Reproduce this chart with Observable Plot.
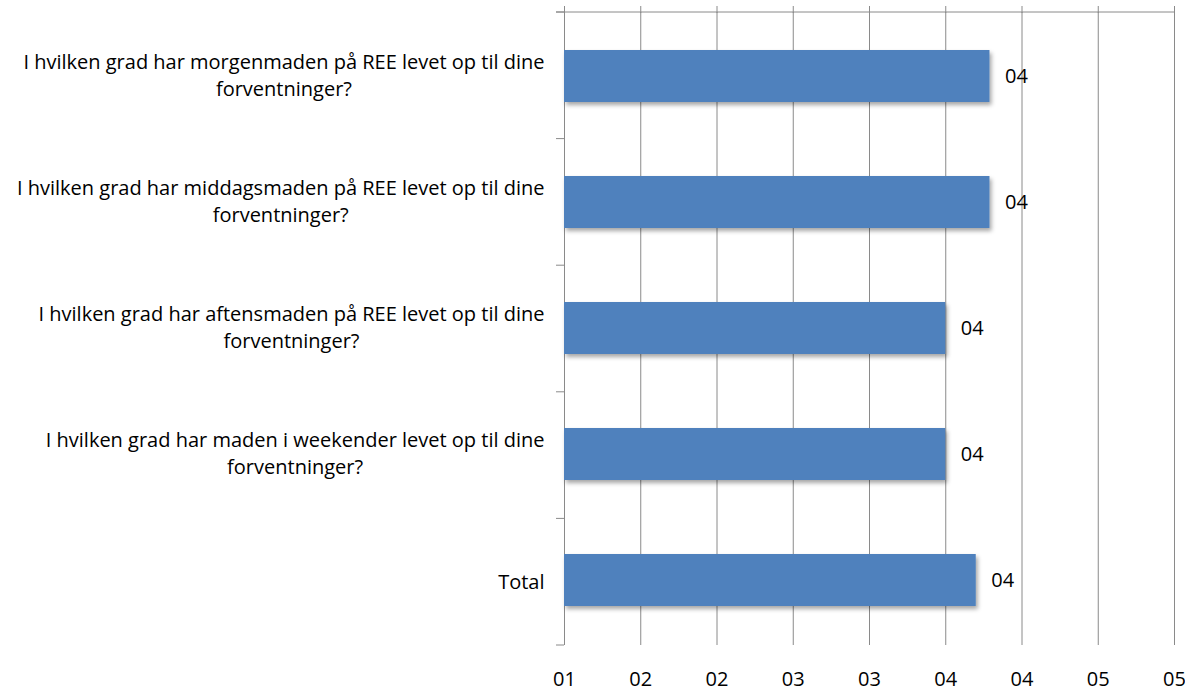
<!DOCTYPE html>
<html><head><meta charset="utf-8">
<script src="https://cdn.jsdelivr.net/npm/d3@7"></script>
<script src="https://cdn.jsdelivr.net/npm/@observablehq/plot@0.6"></script>
<style>
body{margin:0;background:#fff;font-family:"Open Sans",sans-serif;}
#chart svg{display:block;}
</style>
</head><body><div id="chart"></div>
<script>
const questions = [
  "I hvilken grad har morgenmaden på REE levet op til dine forventninger?",
  "I hvilken grad har middagsmaden på REE levet op til dine forventninger?",
  "I hvilken grad har aftensmaden på REE levet op til dine forventninger?",
  "I hvilken grad har maden i weekender levet op til dine forventninger?",
  "Total"
];
const values = [3.79, 3.79, 3.50, 3.50, 3.70];
const valueLabels = ["04", "04", "04", "04", "04"];
const xTicks = [1, 1.5, 2, 2.5, 3, 3.5, 4, 4.5, 5];
const xTickLabels = ["01", "02", "02", "03", "03", "04", "04", "05", "05"];

const data = questions.map((q, i) => ({q, v: values[i], label: valueLabels[i]}));

const W = 1185, H = 693;
const FONT = 20;
const LABEL_GAP = 20;
const ctx = document.createElement("canvas").getContext("2d");
ctx.font = `${FONT}px "Open Sans"`;
function wrapLines(s, maxW) {
  const words = s.split(" ");
  const lines = [];
  let cur = "";
  for (const w of words) {
    const t = cur ? cur + " " + w : w;
    if (ctx.measureText(t).width > maxW && cur) { lines.push(cur); cur = w; }
    else cur = t;
  }
  if (cur) lines.push(cur);
  return lines;
}

const gridColor = "#8a8a8a";

const bandTicks = (index, scales, values, dims) => {
  const g = document.createElementNS("http://www.w3.org/2000/svg", "g");
  const step = (dims.height - dims.marginTop - dims.marginBottom) / questions.length;
  const ys = questions.map((q, i) => dims.marginTop + i * step);
  ys.push(dims.height - dims.marginBottom);
  for (const yy of ys) {
    const l = document.createElementNS("http://www.w3.org/2000/svg", "line");
    l.setAttribute("x1", dims.marginLeft - 8);
    l.setAttribute("x2", dims.marginLeft);
    l.setAttribute("y1", yy); l.setAttribute("y2", yy);
    l.setAttribute("stroke", gridColor);
    g.appendChild(l);
  }
  const t = document.createElementNS("http://www.w3.org/2000/svg", "line");
  t.setAttribute("x1", dims.marginLeft - 8);
  t.setAttribute("x2", dims.width - dims.marginRight);
  t.setAttribute("y1", dims.marginTop); t.setAttribute("y2", dims.marginTop);
  t.setAttribute("stroke", gridColor);
  g.appendChild(t);
  return g;
};

// category labels: block right-aligned, lines centred within the block
const labelMarks = questions.map(q => {
  const lines = wrapLines(q, 545);
  const w = Math.max(...lines.map(l => ctx.measureText(l).width));
  return Plot.text([q], {
    y: d => d, frameAnchor: "left", dx: -(LABEL_GAP + w / 2), dy: lines.length > 1 ? -3 : 0,
    textAnchor: "middle",
    text: () => lines.join("\n"), lineHeight: 1.35, fontSize: FONT, fill: "#000"
  });
});

const chart = Plot.plot({
  width: W,
  height: H,
  marginLeft: 564,
  marginRight: 11,
  marginTop: 12,
  marginBottom: 48,
  style: {fontFamily: '"Open Sans", sans-serif', fontSize: FONT + "px", color: "#000", background: "#fff"},
  x: {domain: [1, 5], label: null},
  y: {domain: questions, paddingInner: 0.585, paddingOuter: 0.2925, label: null, axis: null},
  marks: [
    Plot.gridX(xTicks, {stroke: gridColor, strokeOpacity: 1}),
    Plot.axisX({anchor: "top", ticks: xTicks, tickSize: 7, tickFormat: () => "", label: null, stroke: gridColor, strokeOpacity: 1}),
    Plot.axisX({anchor: "bottom", ticks: xTicks, tickSize: 0, tickPadding: 26, label: null,
      tickFormat: (d) => xTickLabels[xTicks.indexOf(d)], fontSize: FONT, fill: "#000"}),
    Plot.ruleX([1], {stroke: gridColor}),
    bandTicks,
    Plot.barX(data, {y: "q", x1: 1, x2: "v", fill: "#4F81BD"}),
    Plot.text(data, {y: "q", x: "v", text: "label", dx: 15, textAnchor: "start", fontSize: FONT, fill: "#000"}),
    ...labelMarks
  ]
});

const ns = "http://www.w3.org/2000/svg";
const defs = document.createElementNS(ns, "defs");
defs.innerHTML = '<filter id="shadow" x="-5%" y="-20%" width="115%" height="160%"><feDropShadow dx="2" dy="3" stdDeviation="2" flood-color="#000" flood-opacity="0.35"/></filter>';
chart.insertBefore(defs, chart.firstChild);
const barG = chart.querySelector('g[aria-label="bar"]');
if (barG) barG.setAttribute("filter", "url(#shadow)");

document.getElementById("chart").appendChild(chart);
</script>
</body></html>
